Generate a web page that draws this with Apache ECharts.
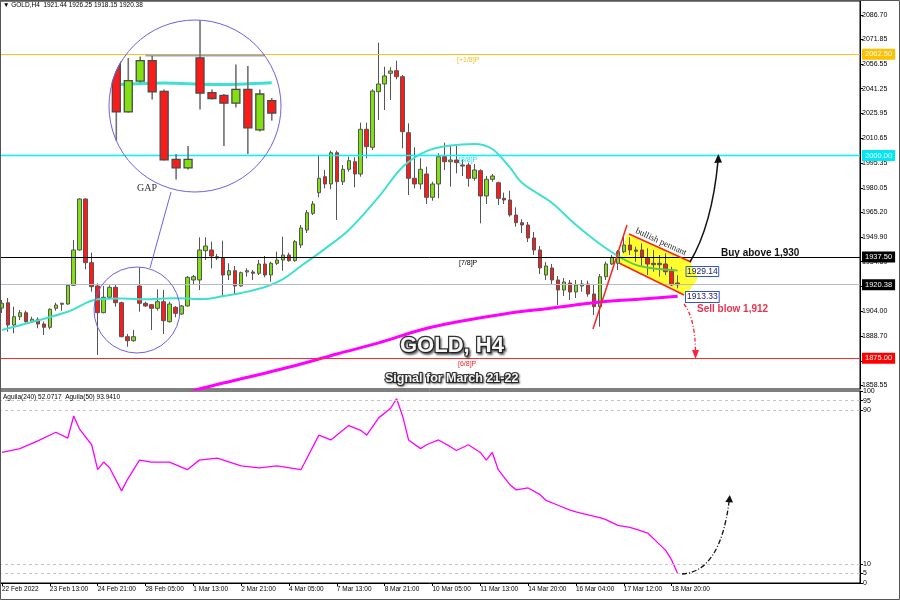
<!DOCTYPE html>
<html>
<head>
<meta charset="utf-8">
<script src="https://cdn.jsdelivr.net/npm/echarts@6.0.0/dist/echarts.min.js"></script>
<style>
html,body{margin:0;padding:0;background:#ffffff;}
#chart{width:900px;height:600px;}
</style>
</head>
<body>
<div id="chart"></div>
<script>
// ---------------- DATA ----------------
const opens = [1906.0,1909.30,1895.55,1900.67,1903.14,1897.59,1899.07,1896.17,1894.13,1905.85,
1908.32,1908.50,1920.04,1941.80,1973.25,1933.97,1919.60,1903.14,1912.64,1918.80,
1909.30,1888.34,1885.87,1919.60,1908.94,1908.07,1905.85,1909.92,1897.59,1906.47,
1902.34,1907.27,1923.30,1923.30,1941.37,1941.80,1937.67,1936.87,1926.38,1929.03,
1919.60,1928.24,1928.24,1927.43,1933.17,1926.38,1933.60,1935.63,1938.72,1935.20,
1944.88,1954.13,1964.43,1977.13,1987.00,1982.50,2001.80,1983.91,1991.56,1996.25,
1988.66,2016.22,2005.13,2039.41,2044.16,2050.75,2052.36,2048.66,2014.13,1986.01,
1982.50,1988.66,1974.29,1982.50,1999.33,1996.25,1997.29,1994.21,1994.21,1986.01,
1990.70,1975.10,1985.39,1983.30,1973.68,1972.63,1963.38,1958.63,1957.22,1949.20,
1941.80,1926.38,1930.71,1923.30,1917.14,1921.45,1915.90,1919.60,1920.84,1914.67,
1906.84,1925.34,1933.17,1933.60,1940.75,1944.88,1941.80,1941.80,1936.68,1933.60,
1933.60,1933.17,1929.03,1921.44];
const closes = [1909.0,1895.55,1900.67,1903.14,1897.59,1899.07,1896.17,1894.13,1905.24,1907.89,
1908.94,1920.04,1941.80,1973.25,1933.97,1919.17,1903.14,1912.64,1918.80,1909.30,
1888.34,1885.87,1888.34,1908.94,1907.27,1905.85,1909.92,1898.21,1908.50,1902.76,
1907.27,1924.97,1925.34,1941.80,1944.27,1938.10,1936.87,1926.38,1929.03,1919.60,
1927.80,1929.03,1927.43,1933.17,1926.38,1933.60,1935.63,1938.72,1935.20,1946.92,
1955.37,1964.80,1970.17,1986.01,1982.50,2001.80,1983.91,1991.56,1996.86,1988.66,
2016.22,2005.50,2039.84,2044.16,2049.09,2052.17,2048.66,2014.74,1986.01,1982.50,
1991.56,1974.29,1982.50,1999.33,1996.25,1997.29,1995.63,1993.59,1986.01,1991.13,
1975.10,1985.39,1987.43,1973.68,1972.63,1963.38,1958.63,1957.22,1949.20,1941.80,
1930.71,1931.94,1923.30,1917.14,1922.07,1915.90,1920.22,1920.84,1914.67,1906.84,
1925.34,1933.17,1937.30,1940.75,1944.88,1941.80,1941.00,1937.30,1933.17,1932.74,
1932.74,1928.42,1920.22,1920.38];
const lows = [1903.0,1891.42,1890.43,1898.64,1896.97,1896.97,1893.52,1889.39,1892.90,1904.37,
1904.37,1908.07,1919.60,1941.37,1929.90,1916.09,1877.06,1902.76,1912.02,1906.84,
1887.97,1882.17,1885.26,1903.76,1906.84,1892.47,1904.37,1890.00,1896.97,1900.30,
1901.72,1906.84,1920.22,1917.14,1935.63,1930.51,1935.63,1912.64,1923.30,1914.05,
1919.17,1925.34,1923.30,1926.38,1924.97,1922.26,1932.55,1929.03,1934.59,1934.59,
1943.03,1952.28,1963.38,1974.29,1979.84,1979.23,1960.30,1981.88,1990.08,1980.46,
1987.00,1998.34,2003.46,2021.96,2028.12,2034.29,2047.05,2004.51,1975.71,1979.84,
1979.23,1970.17,1972.20,1973.68,1991.13,1980.83,1989.10,1987.43,1980.83,1984.53,
1958.26,1970.17,1983.91,1969.55,1970.17,1962.34,1956.17,1952.28,1946.73,1938.72,
1927.00,1923.30,1920.84,1907.89,1913.43,1910.97,1912.20,1916.09,1913.00,1901.72,
1894.51,1923.30,1932.55,1929.47,1939.77,1938.72,1934.59,1931.50,1926.38,1928.42,
1925.34,1926.38,1919.60,1918.15];
const highs = [1911.0,1912.20,1906.84,1904.80,1904.37,1900.67,1900.30,1897.59,1905.85,1909.30,
1909.30,1920.41,1947.97,1973.68,1973.68,1940.14,1921.27,1919.60,1920.04,1920.22,
1909.92,1890.00,1892.47,1931.13,1909.92,1908.50,1917.57,1917.14,1909.92,1907.27,
1907.89,1925.77,1926.38,1949.63,1949.63,1946.92,1939.33,1947.53,1933.60,1931.94,
1928.42,1930.51,1929.47,1935.63,1938.10,1934.59,1940.75,1950.00,1940.14,1947.97,
1957.22,1966.46,1972.02,2000.38,1991.13,2003.03,2003.03,1994.21,1999.33,1998.96,
2020.29,2020.29,2040.89,2069.62,2054.82,2054.45,2058.52,2049.71,2019.92,2005.13,
1998.34,1993.16,1983.91,2001.43,2007.96,2006.54,2007.16,1997.73,1995.63,1994.83,
1991.56,1987.43,1988.66,1983.91,1977.13,1978.36,1968.13,1960.73,1959.07,1952.90,
1944.27,1934.40,1933.17,1925.77,1924.54,1923.30,1923.30,1923.30,1922.87,1920.22,
1927.00,1934.59,1938.72,1941.80,1951.05,1949.63,1943.83,1945.93,1942.85,1941.80,
1938.72,1939.77,1931.50,1926.25];

// moving averages read at key bars: [bar index, price]
const ma21Points = [[0,1892.5],[5,1897.4],[11,1903.7],[16,1911.4],[20,1911.9],[24,1911.4],[29,1912.0],
[34,1911.6],[37,1913.4],[40,1915.3],[44,1919.0],[47,1923.9],[50,1931.9],[54,1942.5],[58,1954.1],
[63,1974.5],[67,1993.0],[71,2002.8],[75,2006.2],[79,2007.2],[82,2004.1],[85,1992.4],[87,1983.1],
[92,1970.8],[96,1957.2],[100,1945.5],[103,1938.1],[106,1932.6],[109,1930.4],[113,1929.14]];
const ma200Points = [[31,1853.5],[33,1856.1],[37,1859.8],[42,1864.1],[50,1871.5],[56,1877.7],[63,1884.5],
[70,1892.5],[76,1897.4],[84,1902.4],[92,1906.0],[100,1909.7],[107,1911.6],[113,1913.33]];
// Aguila oscillator: [bar index, value]
const aguilaPoints = [[0,68],[3,70],[6,74],[9,78.5],[11,75.5],[12,87],[13,80],[15,72],[16,59],[17,63],
[18,60],[20,48],[21,54],[23,64],[25,63],[28,63],[31,59],[33,64],[36,65],[40,61],[43,60],[46,61],
[50,59],[51,65],[53,77],[55,74.5],[57,79.5],[58,82],[60,79.5],[61,77],[63,86],[65,91],[66,96],
[67,87],[68,74.5],[70,70],[71,72],[73,74.5],[75,71],[76,69],[78,72],[80,68],[81,64],[82,68],
[83,59],[85,51],[86,48.5],[88,49.5],[90,46],[91,43],[93,40.5],[95,38],[96,37],[98,35.5],[100,34],
[101,33],[103,30],[105,29],[106,28],[108,26],[110,20],[111,17],[112,12],[113,5]];

const priceTicks = [2086.70,2071.85,2056.55,2041.25,2025.95,2010.65,1995.35,1980.05,1965.20,
1949.90,1934.60,1919.30,1904.00,1888.70,1873.40,1858.55];
const aguilaTicks = [0,5,10,90,95,100];
const aguilaLevels = [95,90,10,5];
const timeTickLabels = ['22 Feb 2022','23 Feb 13:00','24 Feb 21:00','28 Feb 05:00','1 Mar 13:00',
'2 Mar 21:00','4 Mar 05:00','7 Mar 13:00','8 Mar 21:00','10 Mar 05:00','11 Mar 13:00',
'14 Mar 20:00','16 Mar 04:00','17 Mar 12:00','18 Mar 20:00'];
const levelValues = [2062.50, 2000.00, 1937.50, 1920.38, 1875.00];
const levelNames = ['[+1/8]P','[8/8]P','[7/8]P','','[6/8]P'];
const maLastValues = [1929.14, 1913.33];

// ---------------- LAYOUT ----------------
const N_CAT = 144;
const categories = Array.from({length: N_CAT}, (_, i) => String(i));
const candleData = opens.map((o, i) => [o, closes[i], lows[i], highs[i]]);
const PENNANT_START = 103;
const FONT = 'Liberation Sans';

// main grid geometry
const G0 = {left: -1, top: 1, width: 861, height: 388};
const Y_MIN = 1856.09, Y_MAX = 2095.33;
// magnifier: small circle (source) and big circle (2x enlarged view)
const SCX = 137, SCY = 310, SR = 43;
const CX = 195, CY = 106, R = 86;
const MAGK = R / SR;
const MAG_FROM = 16, MAG_TO = 29;
const band = G0.width / N_CAT;
const mainX = (i) => G0.left + band * (i + 0.5);
const magLeft = CX + MAGK * (mainX(MAG_FROM) - band / 2 - SCX);
const magWidth = MAGK * band * (MAG_TO - MAG_FROM + 1);
const pxPerPrice = G0.height / (Y_MAX - Y_MIN);
const priceAtMainY = (y) => Y_MAX - (y - G0.top) / pxPerPrice;
const magYMax = priceAtMainY(SCY + (CY - R - CY) / MAGK);
const magYMin = priceAtMainY(SCY + (CY + R - CY) / MAGK);

const levelColors = ['#ffc21a', '#00f4ff', '#000000', '#b4bcc8', '#ff2a2a'];
const levelWidths = [1, 1.4, 1, 1, 1];
const boxColors = ['#ffc000', '#00e8f8', '#000000', '#000000', '#ff0000'];

const levelMarks = levelValues.map((v, i) => ({
  yAxis: v,
  lineStyle: {color: levelColors[i], width: levelWidths[i], type: 'solid', opacity: 1},
  label: {show: true, position: 'end', distance: 2, formatter: v.toFixed(2),
    color: '#ffffff', backgroundColor: boxColors[i], padding: [2, 3, 1, 3],
    fontSize: 7.5, fontFamily: FONT}
}));

function circleSpan(x) {
  const d = R * R - (x - CX) * (x - CX);
  if (d <= 0) return null;
  const s = Math.sqrt(d);
  return [CY - s, CY + s];
}
function clipLineV(x, ya, yb) {
  const sp = circleSpan(x);
  if (!sp) return null;
  const y1 = Math.max(Math.min(ya, yb), sp[0]), y2 = Math.min(Math.max(ya, yb), sp[1]);
  return y1 < y2 ? [y1, y2] : null;
}

const magData = [];
for (let i = MAG_FROM; i <= MAG_TO; i++) magData.push([String(i), opens[i], closes[i], lows[i], highs[i]]);

function renderMagCandle(params, api) {
  const idx = api.value(0);
  const o = api.value(1), c = api.value(2), lo = api.value(3), hi = api.value(4);
  const pHi = api.coord([idx, hi]), pLo = api.coord([idx, lo]);
  const pO = api.coord([idx, o]), pC = api.coord([idx, c]);
  const xc = pHi[0];
  const bw = api.size([1, 0])[0] * 0.67;
  const up = c >= o;
  const children = [];
  const w = clipLineV(xc, pHi[1], pLo[1]);
  if (w) children.push({type: 'line', shape: {x1: xc, y1: w[0], x2: xc, y2: w[1]}, style: {stroke: '#707070', lineWidth: 1.6}});
  const yT = Math.min(pO[1], pC[1]), yB = Math.max(pO[1], pC[1]) + 0.5;
  const top = [], bot = [];
  let any = false;
  const steps = 10;
  for (let k = 0; k <= steps; k++) {
    const x = xc - bw / 2 + bw * k / steps;
    const sp = circleSpan(x);
    if (!sp) continue;
    const t = Math.max(yT, sp[0]);
    let b = Math.min(yB, sp[1]);
    if (b <= t) b = t; else any = true;
    top.push([x, t]); bot.unshift([x, b]);
  }
  if (any) children.push({type: 'polygon', shape: {points: top.concat(bot)},
    style: {fill: up ? '#80e010' : '#ff1a1a', stroke: '#4a4a4a', lineWidth: 1.3}});
  // enlarged current-price level inside the lens
  if (params.dataIndex === 0) {
    const yl = api.coord([idx, levelValues[3]])[1];
    const d = R * R - (yl - CY) * (yl - CY);
    const sp = d > 0 ? Math.sqrt(d) : 0;
    if (sp > 0) children.unshift({type: 'line', shape: {x1: CX - sp + 20, y1: yl, x2: CX + sp, y2: yl}, style: {stroke: '#9aa4b2', lineWidth: 2}});
  }
  return {type: 'group', children: children};
}

const txt = (x, y, text, font, fill, extra) => Object.assign({
  type: 'text', x: x, y: y, z: 30, silent: true,
  style: Object.assign({text: text, font: font, fill: fill, align: 'left', verticalAlign: 'middle',
    textAlign: 'left', textVerticalAlign: 'middle'}, (extra && extra.style) || {})
}, extra ? {rotation: extra.rotation || 0} : {});

const graphics = [
  // pennant highlight
  {type: 'polygon', z: 1, silent: true, shape: {points: [[627,234],[689,260],[698,278],[686,296],[619,264]]}, style: {fill: '#ffff30'}},
  {type: 'line', z: 30, silent: true, shape: {x1: 629, y1: 234, x2: 691, y2: 262}, style: {stroke: '#ff2020', lineWidth: 1.5}},
  {type: 'line', z: 30, silent: true, shape: {x1: 619, y1: 263, x2: 684, y2: 295}, style: {stroke: '#ff2020', lineWidth: 1.5}},
  {type: 'line', z: 30, silent: true, shape: {x1: 593, y1: 329, x2: 627, y2: 225}, style: {stroke: '#ff2020', lineWidth: 1.5}},
  txt(661, 242, 'bullish pennant', '9px "Liberation Serif"', '#222', {rotation: -0.43, style: {align: 'center', textAlign: 'center'}}),
  // buy arrow
  {type: 'bezierCurve', z: 30, silent: true, shape: {x1: 690, y1: 262, cpx1: 712, cpy1: 225, x2: 718, y2: 161}, style: {stroke: '#111', lineWidth: 1.5, fill: null}},
  {type: 'polygon', z: 30, silent: true, shape: {points: [[718.3,154],[714.3,163],[722,162.5]]}, style: {fill: '#111'}},
  // sell arrow
  {type: 'bezierCurve', z: 30, silent: true, shape: {x1: 684, y1: 304, cpx1: 695, cpy1: 318, x2: 695.5, y2: 351}, style: {stroke: '#ff2040', lineWidth: 1.3, fill: null, lineDash: [4, 2, 1, 2]}},
  {type: 'polygon', z: 30, silent: true, shape: {points: [[695.5,359],[692,350],[699,350]]}, style: {fill: '#ff2040'}},
  // oscillator arrow
  {type: 'bezierCurve', z: 30, silent: true, shape: {x1: 682, y1: 574, cpx1: 720, cpy1: 572, x2: 729, y2: 502}, style: {stroke: '#111', lineWidth: 1.3, fill: null, lineDash: [5, 2, 1, 2]}},
  {type: 'polygon', z: 30, silent: true, shape: {points: [[729.8,495],[725.3,502],[733,502.6]]}, style: {fill: '#111'}},
  // texts
  txt(721, 253, 'Buy above 1,930', 'bold 10px "' + FONT + '"', '#111'),
  txt(697, 309, 'Sell blow 1,912', 'bold 10px "' + FONT + '"', '#e8334f'),
  txt(686, 271.5, maLastValues[0].toFixed(2), '8.5px "' + FONT + '"', '#1a1a70', {style: {borderColor: '#3355dd', borderWidth: 1, padding: [1, 1, 0, 1]}}),
  txt(686, 297, maLastValues[1].toFixed(2), '8.5px "' + FONT + '"', '#1a1a70', {style: {borderColor: '#3355dd', borderWidth: 1, padding: [1, 1, 0, 1], backgroundColor: '#ffffff'}}),
  txt(400, 346, 'GOLD, H4', 'bold 22px "' + FONT + '"', '#f6f6f6', {style: {stroke: '#333', lineWidth: 2.5, textShadowColor: 'rgba(0,0,0,0.45)', textShadowBlur: 2, textShadowOffsetX: 1.5, textShadowOffsetY: 1.5}}),
  txt(385, 379, 'Signal for March 21-22', 'bold 12.5px "' + FONT + '"', '#f6f6f6', {style: {stroke: '#333', lineWidth: 2.2, textShadowColor: 'rgba(0,0,0,0.45)', textShadowBlur: 2, textShadowOffsetX: 1, textShadowOffsetY: 1}}),
  txt(457, 60, levelNames[0], '7px "' + FONT + '"', '#f2bf2a'),
  txt(459, 160, levelNames[1], '7px "' + FONT + '"', '#20e0f0'),
  txt(459, 263, levelNames[2], '7px "' + FONT + '"', '#000'),
  txt(458, 364.5, levelNames[4], '7px "' + FONT + '"', '#ff2020'),
  txt(3, 5.5, '\u25BC GOLD,H4  1921.44 1926.25 1918.15 1920.38', '6.5px "' + FONT + '"', '#000'),
  txt(3, 397.5, 'Aguila(240) 52.0717  Aguila(50) 93.9410', '6.5px "' + FONT + '"', '#000'),
  txt(137, 188, 'GAP', '10px "Liberation Serif"', '#333'),
  // magnifier lens
  {type: 'circle', z: 3, silent: true, shape: {cx: CX, cy: CY, r: R}, style: {fill: '#ffffff'}},
  {type: 'circle', z: 7, silent: true, shape: {cx: CX, cy: CY, r: R}, style: {fill: null, stroke: '#7060e0', lineWidth: 1}},
  {type: 'circle', z: 30, silent: true, shape: {cx: SCX, cy: SCY, r: SR}, style: {fill: null, stroke: '#7060e0', lineWidth: 1}},
  {type: 'line', z: 30, silent: true, shape: {x1: 150, y1: 268, x2: 171, y2: 192}, style: {stroke: '#7060e0', lineWidth: 1}},
  // outer frame
  {type: 'rect', z: 40, silent: true, shape: {x: 0.5, y: 0.5, width: 899, height: 599}, style: {fill: null, stroke: '#555', lineWidth: 1}}
];

const option = {
  animation: false,
  backgroundColor: '#ffffff',
  textStyle: {fontFamily: FONT},
  grid: [
    Object.assign({show: true, borderColor: '#000', borderWidth: 1, backgroundColor: 'transparent', outerBoundsMode: 'none', containLabel: false}, G0),
    {left: G0.left, top: 391, width: G0.width, height: 192, show: true, borderColor: '#000', borderWidth: 1, backgroundColor: 'transparent', outerBoundsMode: 'none', containLabel: false},
    {left: magLeft, top: CY - R, width: magWidth, height: 2 * R, show: false, outerBoundsMode: 'none', containLabel: false}
  ],
  xAxis: [
    {type: 'category', gridIndex: 0, data: categories, boundaryGap: true, show: false},
    {type: 'category', gridIndex: 1, data: categories, boundaryGap: true,
      axisLine: {show: true, lineStyle: {color: '#000', width: 1}},
      axisTick: {show: true, alignWithLabel: true, length: 3, inside: false, lineStyle: {color: '#000'},
        interval: (i) => i % 8 === 0 && i / 8 < timeTickLabels.length},
      axisLabel: {show: true, interval: (i) => i % 8 === 0 && i / 8 < timeTickLabels.length,
        formatter: (v) => { const i = Number(v); return i % 8 === 0 ? (timeTickLabels[i / 8] || '') : ''; },
        align: 'left', fontSize: 6.5, color: '#000', margin: 3, fontFamily: FONT},
      splitLine: {show: false}},
    {type: 'category', gridIndex: 2, data: categories.slice(MAG_FROM, MAG_TO + 1), boundaryGap: true, show: false}
  ],
  yAxis: [
    {type: 'value', gridIndex: 0, position: 'right', min: Y_MIN, max: Y_MAX, scale: true,
      axisLine: {show: true, lineStyle: {color: '#000'}},
      axisTick: {show: true, length: 3, inside: false, customValues: priceTicks, lineStyle: {color: '#000'}},
      axisLabel: {show: true, customValues: priceTicks, formatter: (v) => v.toFixed(2), fontSize: 7, color: '#000', margin: 2, fontFamily: FONT},
      splitLine: {show: false}},
    {type: 'value', gridIndex: 1, position: 'right', min: 0, max: 100,
      axisLine: {show: true, lineStyle: {color: '#000'}},
      axisTick: {show: true, length: 3, inside: false, customValues: aguilaTicks, lineStyle: {color: '#000'}},
      axisLabel: {show: true, customValues: aguilaTicks, fontSize: 7, color: '#000', margin: 3, fontFamily: FONT},
      splitLine: {show: false}},
    {type: 'value', gridIndex: 2, min: magYMin, max: magYMax, show: false, splitLine: {show: false}}
  ],
  series: [
    {type: 'candlestick', name: 'GOLD', xAxisIndex: 0, yAxisIndex: 0, data: candleData, barWidth: 4, z: 2,
      itemStyle: {color: '#80e010', color0: '#ff1a1a', borderColor: '#555', borderColor0: '#555', borderWidth: 1},
      markLine: {silent: true, symbol: ['none', 'none'], animation: false, data: levelMarks}},
    {type: 'line', name: 'MA21', xAxisIndex: 0, yAxisIndex: 0, data: ma21Points.filter(p => p[0] <= PENNANT_START),
      smooth: 0.35, symbol: 'none', z: 3, lineStyle: {color: '#40e0d0', width: 2}, itemStyle: {color: '#40e0d0'}},
    {type: 'line', name: 'MA21 (pennant)', xAxisIndex: 0, yAxisIndex: 0, data: ma21Points.filter(p => p[0] >= PENNANT_START),
      smooth: 0.35, symbol: 'none', z: 3, lineStyle: {color: '#5cc84a', width: 2}, itemStyle: {color: '#5cc84a'}},
    {type: 'line', name: 'MA200', xAxisIndex: 0, yAxisIndex: 0, data: ma200Points, smooth: 0.35, symbol: 'none', z: 3,
      lineStyle: {color: '#ff00ff', width: 3}, itemStyle: {color: '#ff00ff'}},
    {type: 'line', name: 'Aguila', xAxisIndex: 1, yAxisIndex: 1, data: aguilaPoints, symbol: 'none', z: 3,
      lineStyle: {color: '#ff00ff', width: 1.3}, itemStyle: {color: '#ff00ff'},
      markLine: {silent: true, symbol: ['none', 'none'], animation: false, label: {show: false},
        lineStyle: {color: '#c4c4c4', type: [3, 3], width: 1},
        data: aguilaLevels.map(v => ({yAxis: v}))}},
    {type: 'line', name: 'MA21 zoom', xAxisIndex: 2, yAxisIndex: 2, z: 4, symbol: 'none', smooth: 0.35,
      data: ma21Points.filter(p => p[0] >= MAG_FROM && p[0] <= MAG_TO).map(p => [String(p[0]), p[1]]),
      lineStyle: {color: '#40e0d0', width: 3}, itemStyle: {color: '#40e0d0'}},
    {type: 'custom', name: 'GOLD zoom', xAxisIndex: 2, yAxisIndex: 2, z: 5, clip: false,
      data: magData, encode: {x: 0, y: [1, 2, 3, 4]}, renderItem: renderMagCandle}
  ],
  graphic: {elements: graphics}
};

const chart = echarts.init(document.getElementById('chart'), null, {renderer: 'canvas', width: 900, height: 600});
chart.setOption(option);
</script>
</body>
</html>
